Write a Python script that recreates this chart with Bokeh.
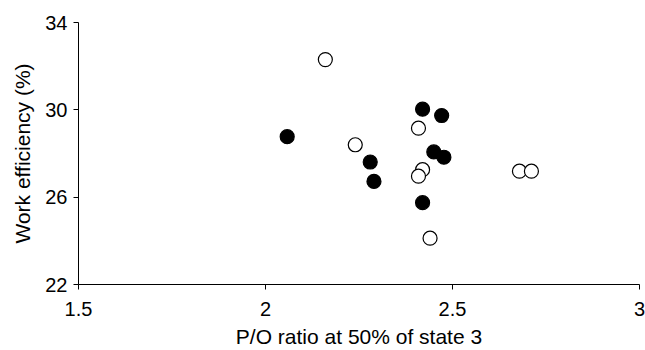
from bokeh.plotting import figure
from bokeh.models import Range1d, FixedTicker, ColumnDataSource
from bokeh.embed import file_html
from bokeh.resources import INLINE

# Data
po_open = [2.160, 2.240, 2.409, 2.420, 2.409, 2.440, 2.679, 2.711]
eff_open = [32.30, 28.40, 29.16, 27.26, 26.96, 24.12, 27.19, 27.19]

po_filled = [2.058, 2.280, 2.290, 2.420, 2.471, 2.450, 2.477, 2.420]
eff_filled = [28.77, 27.61, 26.72, 30.03, 29.74, 28.07, 27.83, 25.75]

x_ticks = [1.5, 2, 2.5, 3]
x_tick_labels = ["1.5", "2", "2.5", "3"]
y_ticks = [22, 26, 30, 34]
y_tick_labels = ["22", "26", "30", "34"]

x_title = "P/O ratio at 50% of state 3"
y_title = "Work efficiency (%)"

FONT = "Liberation Sans"

p = figure(width=645, height=350, output_backend="svg", toolbar_location=None,
           x_range=Range1d(1.5, 3), y_range=Range1d(22, 34),
           min_border_left=78, min_border_right=6, min_border_top=22, min_border_bottom=64)
p.outline_line_color = None
p.xgrid.visible = False
p.ygrid.visible = False
p.background_fill_color = "white"
p.border_fill_color = "white"

for ax, ticks, labels, title in [(p.xaxis[0], x_ticks, x_tick_labels, x_title),
                                 (p.yaxis[0], y_ticks, y_tick_labels, y_title)]:
    ax.ticker = FixedTicker(ticks=ticks)
    ax.major_label_overrides = {t: l for t, l in zip(ticks, labels)}
    ax.axis_label = title
    ax.axis_label_text_font = FONT
    ax.axis_label_text_font_size = "21px"
    ax.axis_label_text_font_style = "normal"
    ax.axis_label_text_color = "black"
    ax.major_label_text_font = FONT
    ax.major_label_text_font_size = "20px"
    ax.major_label_text_color = "black"
    ax.axis_line_color = "black"
    ax.axis_line_width = 1
    ax.major_tick_line_color = "black"
    ax.major_tick_out = 5
    ax.major_tick_in = 0
    ax.minor_tick_line_color = None

p.xaxis.major_label_standoff = 12
p.xaxis.axis_label_standoff = 6
p.yaxis.major_label_standoff = 6
p.yaxis.axis_label_standoff = 8

src_f = ColumnDataSource(dict(x=po_filled, y=eff_filled))
src_o = ColumnDataSource(dict(x=po_open, y=eff_open))

p.scatter("x", "y", source=src_f, size=14, marker="circle",
          fill_color="black", line_color="black", line_width=1.2)
p.scatter("x", "y", source=src_o, size=14, marker="circle",
          fill_color="white", line_color="black", line_width=1.2)

open("out.html", "w").write(file_html(p, INLINE))
